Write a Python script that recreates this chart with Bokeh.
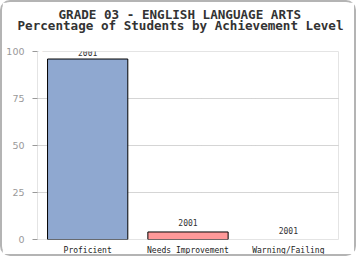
from bokeh.plotting import figure
from bokeh.models import ColumnDataSource, Title, FixedTicker, Range1d, CDSView, BooleanFilter
from bokeh.embed import file_html
from bokeh.resources import INLINE
from bokeh.core.properties import value

title_lines = ["GRADE 03 - ENGLISH LANGUAGE ARTS", "Percentage of Students by Achievement Level"]
categories = ["Proficient", "Needs Improvement", "Warning/Failing"]
percents = [96, 4, 0]
year_labels = ["2001", "2001", "2001"]
label_offsets = [-3, -6, -6]
colors = ["#8fa8d0", "#ff9999", "#cccccc"]
y_ticks = [0, 25, 50, 75, 100]

src = ColumnDataSource(dict(cat=categories, pct=percents, lab=year_labels,
                            off=label_offsets, col=colors))
nonzero = CDSView(filter=BooleanFilter([v > 0 for v in percents]))

p = figure(x_range=categories, y_range=Range1d(0, 100), width=356, height=256,
           output_backend="svg", toolbar_location=None,
           min_border_left=35, min_border_right=20, min_border_top=49, min_border_bottom=19)
p.styles = {"border": "2px solid #b4b4b4", "border-radius": "10px"}

tstyle = dict(text_font="DejaVu Sans Mono", text_font_style="bold", text_font_size="12.6px",
              text_color="#333333", align="left")
p.title = None
spacer = Title(text=".", standoff=0, text_font_size="23px", text_color="#ffffff")
t2 = Title(text=title_lines[1], standoff=0, offset=-20, **tstyle)
t1 = Title(text=title_lines[0], standoff=-12, offset=21, **tstyle)
p.add_layout(spacer, "above")
p.add_layout(t2, "above")
p.add_layout(t1, "above")

p.vbar(x="cat", top="pct", width=0.8, source=src, view=nonzero, fill_color="col",
       line_color="black", line_width=1)
p.text(x="cat", y="pct", text="lab", source=src, y_offset="off",
       text_align="center", text_baseline="bottom",
       text_font=value("DejaVu Sans Mono"), text_font_size="8px", text_color="#333333")

p.outline_line_color = "#e4e4e4"
p.xgrid.grid_line_color = None
p.ygrid.ticker = FixedTicker(ticks=[25, 50, 75])
p.ygrid.grid_line_color = "#aaaaaa"
p.ygrid.grid_line_dash = "1 1"

p.yaxis.ticker = FixedTicker(ticks=y_ticks)
p.yaxis.axis_line_color = None
p.yaxis.major_tick_line_color = "#999999"
p.yaxis.major_tick_out = 5
p.yaxis.major_tick_in = 0
p.yaxis.minor_tick_line_color = None
p.yaxis.major_label_text_color = "#999999"
p.yaxis.major_label_text_font = "DejaVu Sans"
p.yaxis.major_label_text_font_size = "9.5px"
p.yaxis.major_label_standoff = 8

p.xaxis.axis_line_color = None
p.xaxis.major_tick_line_color = None
p.xaxis.minor_tick_line_color = None
p.xaxis.major_label_text_font = "DejaVu Sans Mono"
p.xaxis.major_label_text_font_size = "8px"
p.xaxis.major_label_text_color = "#222222"
p.xaxis.major_label_standoff = 0

open("out.html", "w").write(file_html(p, INLINE))
